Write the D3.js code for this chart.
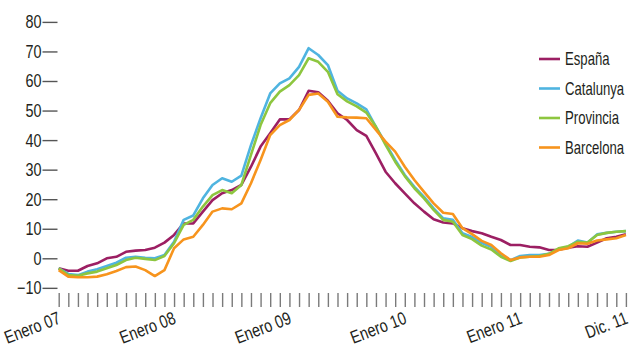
<!DOCTYPE html>
<html><head><meta charset="utf-8">
<script src="https://cdn.jsdelivr.net/npm/d3@7"></script>
<style>
html,body{margin:0;padding:0;background:#fff;}
svg{display:block;}
text{font-family:"Liberation Sans",Arial,sans-serif;fill:#231f20;}
</style></head>
<body>
<svg id="chart" width="632" height="347"></svg>
<script>
const seriesNames = ["España", "Catalunya", "Provincia", "Barcelona"];
const seriesColors = ["#9c1f63", "#4fb4e0", "#8dc63f", "#f7941d"];
const espana = [-3.4,-4.2,-4.2,-2.6,-1.7,0,0.5,2.2,2.6,2.8, 3.6,5.3,7.9,11.8,11.8,15.8,19.7,22.0,23.1,24.8, 31.0,37.8,42.3,47.0,47.0,50.2,56.7,56.2,53.3,49.1, 46.8,43.4,41.4,35.5,29.3,25.4,22.0,18.6,15.8,13.2, 12.1,11.8,10.2,9.2,8.5,7.3,6.2,4.5,4.5,3.9, 3.7,2.8,2.9,3.6,4.1,3.9,5.3,6.8,7.3,8.1];
const catalunya = [-3.4,-5.3,-5.7,-4.5,-3.7,-2.6,-1.5,0.2,0.5,0.2, 0,1.1,5.6,13.0,14.5,20.3,24.8,27.1,25.9,28.0, 38.3,47.4,55.8,59.2,60.9,64.8,71.1,68.8,65.4,56.7, 54.1,52.4,50.4,44.5,38.9,33.3,28.2,24.2,20.8,16.9, 13.5,13.0,8.5,7.2,5.2,3.9,1.1,-0.6,0.8,1.1, 1.1,1.5,3.0,3.9,6.0,5.3,8.1,8.6,9.0,9.2];
const provincia = [-3.4,-5.7,-5.9,-5.1,-4.5,-3.4,-2.3,-0.6,0.2,-0.2, -0.6,0.8,5.1,11.3,13.0,17.5,21.4,23.1,22.0,24.8, 35.0,45.1,52.5,56.4,58.6,62.0,67.7,66.5,63.1,55.5, 53.1,51.4,49.3,44.5,38.4,32.7,27.8,23.7,20.3,16.4, 13.0,12.4,7.9,6.5,4.3,3.0,0.5,-0.9,0.3,0.5, 0.8,1.5,3.4,4.1,5.6,5.3,7.9,8.6,9.0,9.2];
const barcelona = [-4.0,-6.2,-6.4,-6.4,-6.2,-5.4,-4.3,-3.0,-2.8,-4.0, -6.0,-4.0,3.4,6.4,7.3,11.3,15.8,16.9,16.6,18.6, 25.4,33.3,41.7,45.1,46.8,50.2,55.3,55.8,53.0,47.9, 47.7,47.6,47.4,43.4,39.5,36.1,31.0,26.5,22.5,18.6, 15.4,15.0,10.2,8.2,5.9,4.5,1.7,-0.6,0.3,0.5, 0.5,1.1,2.8,3.4,5.1,4.9,6.0,6.4,6.8,7.9];
const yTicks = [-10,0,10,20,30,40,50,60,70,80];
const xLabelIndex = [0,12,24,36,48,59];
const xLabels = ["Enero 07","Enero 08","Enero 09","Enero 10","Enero 11","Dic. 11"];

const allSeries = [espana, catalunya, provincia, barcelona];
const months = d3.range(espana.length);

const svg = d3.select("#chart");
const x = d3.scaleLinear().domain([0, months.length - 1]).range([58.7, 625.9]);
const y = d3.scaleLinear().domain([-10, 80]).range([287.85, 21.9]);

// Y axis (ticks only; labels drawn condensed)
const yAxis = svg.append("g").attr("transform", "translate(57.5,0)")
  .call(d3.axisLeft(y).tickValues(yTicks).tickSize(15).tickFormat(""));
yAxis.select(".domain").remove();
yAxis.selectAll(".tick line").attr("stroke", "#555").attr("stroke-width", 1.4);
svg.append("g").selectAll("g").data(yTicks).join("g")
  .attr("transform", d => `translate(41.5,${y(d)}) scale(0.8,1)`)
  .append("text").attr("text-anchor", "end").attr("dy", "0.36em")
  .attr("font-size", 18).text(d => d3.format("d")(d));

// X axis ticks
const xAxis = svg.append("g").attr("transform", "translate(0,293)")
  .call(d3.axisBottom(x).tickValues(months).tickSize(14).tickFormat(""));
xAxis.select(".domain").remove();
xAxis.selectAll(".tick line").attr("stroke", "#7a7a7a").attr("stroke-width", 1.4);

// X labels
svg.append("g").selectAll("text").data(xLabelIndex).join("text")
  .attr("transform", (d) => `translate(${x(d) + 3},323) rotate(-21) scale(0.8,1)`)
  .attr("text-anchor", "end")
  .attr("font-size", 18)
  .text((d, i) => xLabels[i]);

// Lines
const line = d3.line().x((d, i) => x(i)).y(d => y(d));
svg.append("g").selectAll("path").data(allSeries).join("path")
  .attr("d", d => line(d))
  .attr("fill", "none")
  .attr("stroke", (d, i) => seriesColors[i])
  .attr("stroke-width", 2.6)
  .attr("stroke-linejoin", "round");

// Legend
const leg = svg.append("g").selectAll("g").data(seriesNames).join("g")
  .attr("transform", (d, i) => `translate(539,${59 + i * 29.5})`);
leg.append("line").attr("x1", 0).attr("x2", 21).attr("y1", 0).attr("y2", 0)
  .attr("stroke", (d, i) => seriesColors[i]).attr("stroke-width", 2.6);
leg.append("text").attr("transform", "translate(26,0) scale(0.73,1)").attr("dy", "0.36em")
  .attr("font-size", 18).text(d => d);
</script>
</body></html>
